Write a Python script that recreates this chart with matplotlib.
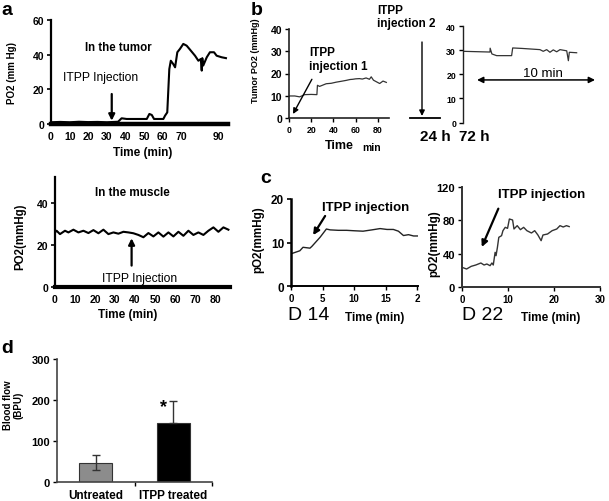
import matplotlib
matplotlib.use('Agg')
import matplotlib.pyplot as plt

plt.rcParams['font.family'] = ['Liberation Sans', 'DejaVu Sans']

# ---------------- data ----------------
# a: tumor
tumor_t = [0, 5, 10, 15, 20, 25, 30, 36, 37.9, 40.6, 51.4, 52.8, 54.1, 55.3, 60.3, 61.2,
           62.4, 63.5, 64.3, 65.6, 66.6, 67.8, 69.2, 71.0, 72.8, 74.6, 77.3, 79.1, 80.4,
           80.9, 81.2, 81.7, 83.6, 85.3, 87.5, 88.9, 91.6, 93.9]
tumor_po2 = [1.0, 1.2, 1.0, 1.3, 1.1, 1.2, 1.0, 1.3, 3.3, 2.9, 2.9, 5.8, 5.2, 2.9, 2.9, 4.8,
             6.7, 31.7, 36.5, 34.6, 32.7, 41.4, 43.3, 46.2, 45.2, 42.9, 39.4, 36.5, 37.5,
             30.8, 38.0, 33.7, 38.5, 41.4, 41.4, 39.4, 38.5, 38.0]
tumor_xticks = [0, 10, 20, 30, 40, 50, 60, 70, 90]

# a: muscle
muscle_t = [0, 0.8, 2.5, 5, 6.7, 9.2, 11.7, 14.2, 16.7, 19.2, 21.7, 24.2, 26.7, 29.2, 31.7,
            34.2, 36.7, 39.2, 41.7, 44.2, 46.7, 49.2, 51.7, 54.2, 56.7, 59.2, 61.7, 64.2,
            66.7, 69.2, 71.7, 74.2, 76.7, 79.2, 81.7, 84.2, 86.7]
muscle_po2 = [26.0, 26.8, 25.2, 26.8, 26.0, 27.3, 26.0, 26.8, 25.7, 27.1, 25.6, 27.3, 25.2,
              26.0, 25.4, 26.3, 26.0, 25.6, 24.8, 23.7, 25.7, 24.1, 26.0, 24.0, 26.0, 24.1,
              26.3, 24.4, 26.8, 24.8, 26.0, 24.8, 26.8, 28.4, 26.3, 28.4, 27.3]

# b: first session (min)
b1_t = [0, 5.2, 9.6, 14.1, 20, 25.1, 25.6, 27.5, 33.5, 38, 42.4, 47, 51.4, 55, 57.4, 60,
        63.4, 66, 69.4, 72.4, 74, 76, 78.6, 81.6, 84.6, 87.6]
b1_po2 = [9.9, 9.9, 9.5, 10.5, 10.6, 10.5, 14.7, 14.2, 15.4, 15.6, 16.1, 16.5, 16.9, 17.3,
          17.4, 17.6, 17.7, 17.5, 18.0, 17.4, 18.5, 17.0, 16.3, 15.5, 16.6, 16.0]

# b: after 72 h (min)
b2_t = [0, 2.29, 2.3, 2.45, 2.85, 4.12, 4.21, 5.0, 6.52, 6.8, 7.09, 7.37, 7.65, 7.94, 8.22,
        8.79, 8.93, 9.01, 9.63]
b2_po2 = [29.6, 29.3, 30.9, 28.5, 27.8, 27.8, 31.0, 30.8, 30.3, 29.6, 30.3, 29.2, 30.2, 29.4,
          30.3, 29.8, 25.7, 29.2, 29.0]

# c: D14
c1_t = [0, 0.6, 1.4, 1.9, 3.0, 3.3, 4.6, 5.6, 6.2, 7.5, 8.8, 10.0, 11.4, 12.8, 14.1, 15.2,
        16.2, 17.0, 17.8, 18.6, 19.4, 20.0]
c1_po2 = [7.4, 7.7, 8.1, 8.9, 8.7, 9.1, 11.2, 13.1, 12.9, 12.8, 12.8, 12.7, 12.6, 12.9, 13.2,
          13.0, 13.0, 12.6, 11.6, 11.8, 11.5, 11.5]

# c: D22
c2_t = [0, 1.0, 2.0, 3.0, 4.1, 4.8, 5.4, 6.1, 6.5, 6.8, 7.2, 7.4, 7.7, 8.0, 8.6, 8.9, 9.4,
        9.9, 10.3, 11.0, 11.3, 12.0, 12.7, 13.4, 14.1, 15.1, 15.8, 16.5, 17.2, 17.6, 18.6,
        19.6, 20.6, 21.3, 22.0, 22.7, 23.3]
c2_po2 = [23.6, 21.6, 24.8, 26.4, 28.8, 26.4, 27.6, 25.6, 28.8, 26.4, 41.6, 37.6, 47.6, 59.6,
          61.6, 67.6, 71.6, 70.4, 81.6, 80.4, 69.6, 73.6, 68.8, 71.6, 67.6, 64.8, 67.6, 62.4,
          55.6, 62.4, 63.6, 67.6, 69.6, 73.6, 72.0, 73.6, 72.5]

# d: blood flow
groups = ['Untreated', 'ITPP treated']
flow = [47, 145]
flow_err_low = [18, 0]
flow_err_high = [18, 53]

# ---------------- figure ----------------
W, H = 609, 502
fig = plt.figure(figsize=(W / 100, H / 100), dpi=100)


def axpx(x0, y0, x1, y1):
    return fig.add_axes([x0 / W, 1 - y1 / H, (x1 - x0) / W, (y1 - y0) / H])


def ftext(x, y, s, **kw):
    kw.setdefault('ha', 'center')
    kw.setdefault('va', 'center')
    return fig.text(x / W, 1 - y / H, s, **kw)


def style(ax, lw_left=1.5, lw_bottom=1.5, color='black', bottom=True):
    ax.spines['top'].set_visible(False)
    ax.spines['right'].set_visible(False)
    ax.spines['left'].set_linewidth(lw_left)
    ax.spines['bottom'].set_linewidth(lw_bottom)
    ax.spines['left'].set_color(color)
    ax.spines['bottom'].set_color(color)
    ax.spines['bottom'].set_visible(bottom)
    ax.patch.set_alpha(0)


def ticklabels_bold(ax, xs, ys):
    for lab in ax.get_xticklabels():
        lab.set_fontweight('bold')
        lab.set_fontsize(xs)
    for lab in ax.get_yticklabels():
        lab.set_fontweight('bold')
        lab.set_fontsize(ys)


arrow_kw = dict(arrowstyle='-|>', color='black', lw=1.6, mutation_scale=9,
                shrinkA=0, shrinkB=0)

# ---- panel a: tumor ----
ax = axpx(51, 21, 228, 125)
style(ax, 1.6, 3.2)
ax.plot(tumor_t, tumor_po2, color='black', lw=1.5, solid_joinstyle='round')
ax.set_xlim(0, 95)
ax.set_ylim(0, 60)
ax.set_yticks([0, 20, 40, 60])
ax.set_xticks(tumor_xticks)
ax.tick_params(axis='y', length=3, width=1.2, pad=2)
ax.tick_params(axis='x', length=0, pad=5)
ticklabels_bold(ax, 7.5, 7.5)
ax.text(36.1, 44.2, 'In the tumor', fontsize=8.3, fontweight='bold', ha='center', va='center')
ax.text(6.6, 26.9, 'ITPP Injection', fontsize=8.7, ha='left', va='center')
ax.annotate('', xy=(32.6, 1.9), xytext=(32.6, 17.3), arrowprops=arrow_kw)
ftext(12, 73, 'PO2 (mm Hg)', rotation=90, fontsize=7, fontweight='bold')
ftext(143, 153, 'Time (min)', fontsize=8.5, fontweight='bold')

# ---- panel a: muscle ----
ax = axpx(55, 178, 230, 288)
style(ax, 1.6, 3.0)
ax.plot(muscle_t, muscle_po2, color='black', lw=1.5)
ax.set_xlim(0, 87.5)
ax.set_ylim(0, 52.4)
ax.set_yticks([0, 20, 40])
ax.set_xticks([0, 10, 20, 30, 40, 50, 60, 70, 80])
ax.tick_params(axis='y', length=3, width=1.2, pad=2)
ax.tick_params(axis='x', length=0, pad=5)
ticklabels_bold(ax, 7.5, 7.5)
ax.text(38.7, 45.1, 'In the muscle', fontsize=8.4, fontweight='bold', ha='center', va='center')
ax.text(42.5, 4.1, 'ITPP Injection', fontsize=8.7, ha='center', va='center')
ax.annotate('', xy=(38.3, 23.2), xytext=(38.3, 10.2), arrowprops=arrow_kw)
ftext(20, 237, 'PO2(mmHg)', rotation=90, fontsize=8.3, fontweight='bold')
ftext(128, 315, 'Time (min)', fontsize=8.5, fontweight='bold')

# ---- panel b: left ----
ax = axpx(289, 30, 389, 119)
style(ax, 1.2, 1.2, color='#222222')
ax.plot(b1_t, b1_po2, color='#333333', lw=0.9)
ax.set_xlim(0, 90)
ax.set_ylim(0, 40)
ax.set_yticks([0, 10, 20, 30, 40])
ax.set_xticks([0, 20, 40, 60, 80])
ax.tick_params(axis='y', length=3, width=1, pad=2)
ax.tick_params(axis='x', length=3, width=1, pad=2)
ticklabels_bold(ax, 6.3, 7.5)
ax.text(18.0, 32.2, 'ITPP\ninjection 1', fontsize=8.5, fontweight='bold', ha='left', va='top',
        linespacing=1.15)
ax.annotate('', xy=(3.6, 1.8), xytext=(20.6, 17.4),
            arrowprops=dict(arrowstyle='-|>', color='black', lw=1.0, mutation_scale=8,
                            shrinkA=0, shrinkB=0))
ftext(256, 61, 'Tumor PO2 (mmHg)', rotation=90, fontsize=6.5, fontweight='bold')
ftext(339, 146, 'Time', fontsize=9, fontweight='bold')
ftext(372, 148, 'min', fontsize=7.5, fontweight='bold')

# ---- panel b: middle (break / second injection) ----
ov = fig.add_axes([0, 0, 1, 1])
ov.set_xlim(0, W)
ov.set_ylim(H, 0)
ov.axis('off')
ov.patch.set_alpha(0)
ov.plot([410, 440], [119, 119], color='black', lw=1.3)
ov.annotate('', xy=(422, 117), xytext=(422, 43),
            arrowprops=dict(arrowstyle='-|>', color='black', lw=1.0, mutation_scale=8,
                            shrinkA=0, shrinkB=0))
ftext(377, 5, 'ITPP\ninjection 2', fontsize=8.5, fontweight='bold', ha='left', va='top',
      linespacing=1.15)
ftext(435, 137, '24 h', fontsize=11, fontweight='bold')
ftext(474, 137, '72 h', fontsize=11, fontweight='bold')

# ---- panel b: right ----
ax = axpx(463, 27.3, 600, 123.5)
style(ax, 1.0, 1.0, color='#222222', bottom=False)
ax.plot(b2_t, b2_po2, color='#333333', lw=0.9)
ax.set_xlim(0, 11.61)
ax.set_ylim(0, 40)
ax.set_yticks([0, 10, 20, 30, 40])
ax.set_xticks([])
ax.tick_params(axis='y', length=3, width=1, pad=2)
ticklabels_bold(ax, 6.3, 6.3)
ax.annotate('', xy=(11.19, 17.7), xytext=(1.19, 17.7),
            arrowprops=dict(arrowstyle='<|-|>', color='black', lw=1.1, mutation_scale=9,
                            shrinkA=0, shrinkB=0))
ax.text(6.78, 20.4, '10 min', fontsize=9.5, ha='center', va='center')

# ---- panel c: left (D14) ----
ax = axpx(291, 200, 418, 287)
style(ax, 1.8, 1.4)
ax.plot(c1_t, c1_po2, color='#222222', lw=1.0)
ax.set_xlim(0, 20.1)
ax.set_ylim(0, 20)
ax.set_yticks([0, 10, 20])
ax.set_xticks([0, 5, 10, 15, 20])
ax.set_xticklabels(['0', '5', '10', '15', '2'])
ax.tick_params(axis='y', length=3, width=1.2, pad=2)
ax.tick_params(axis='x', length=3, width=1.0, pad=2)
ticklabels_bold(ax, 7, 8.5)
ax.text(4.9, 18.2, 'ITPP injection', fontsize=9.5, fontweight='bold', ha='left', va='center')
ax.annotate('', xy=(3.5, 11.7), xytext=(5.4, 16.1), arrowprops=arrow_kw)
ftext(258, 240, 'pO2(mmHg)', rotation=90, fontsize=8.4, fontweight='bold')
ftext(288, 316, 'D 14', fontsize=14, ha='left')
ftext(375, 318, 'Time (min)', fontsize=8.5, fontweight='bold')

# ---- panel c: right (D22) ----
ax = axpx(462, 188, 600, 288)
style(ax, 1.4, 1.4, color='#333333')
ax.plot(c2_t, c2_po2, color='#333333', lw=1.0)
ax.set_xlim(0, 30)
ax.set_ylim(0, 120)
ax.set_yticks([0, 40, 80, 120])
ax.set_xticks([0, 10, 20, 30])
ax.tick_params(axis='y', length=3, width=1.0, pad=2)
ax.tick_params(axis='x', length=3, width=1.0, pad=2)
ticklabels_bold(ax, 7, 8)
ax.text(7.9, 112, 'ITPP injection', fontsize=9.5, fontweight='bold', ha='left', va='center')
ax.annotate('', xy=(4.3, 48), xytext=(7.9, 94), arrowprops=arrow_kw)
ftext(434, 244, 'pO2(mmHg)', rotation=90, fontsize=8.4, fontweight='bold')
ftext(462, 316, 'D 22', fontsize=14, ha='left')
ftext(551, 318, 'Time (min)', fontsize=8.5, fontweight='bold')

# ---- panel d ----
ax = axpx(57, 360, 212, 483)
style(ax, 1.2, 1.2, color='#444444')
xpos = list(range(len(groups)))
ax.bar(xpos, flow, width=0.42, color=['#8c8c8c', 'black'], edgecolor='#333333', linewidth=0.8,
       zorder=2)
ax.errorbar(xpos, flow, yerr=[flow_err_low, flow_err_high], fmt='none', ecolor='#333333',
            elinewidth=1.0, capsize=3, capthick=1.0, zorder=3)
ax.set_xlim(-0.5, 1.5)
ax.set_ylim(0, 300)
ax.set_yticks([0, 100, 200, 300])
ax.set_xticks(xpos)
ax.set_xticklabels(groups)
ax.set_xticks([0.5, 1.5], minor=True)
ax.tick_params(axis='x', which='major', length=0, pad=5)
ax.tick_params(axis='x', which='minor', length=3, width=1)
ax.tick_params(axis='y', length=3, width=1, pad=2)
ticklabels_bold(ax, 8.5, 8)
ax.text(0.88, 183, '*', fontsize=13, fontweight='bold', ha='center', va='center')
ftext(13, 405, 'Blood flow\n(BPU)', rotation=90, fontsize=7, fontweight='bold',
      linespacing=1.0)

# ---- panel letters ----
ftext(1, 2, 'a', fontsize=14, fontweight='bold', ha='left', va='top')
ftext(251, 2, 'b', fontsize=14, fontweight='bold', ha='left', va='top')
ftext(260, 170, 'c', fontsize=14, fontweight='bold', ha='left', va='top')
ftext(1, 340, 'd', fontsize=14, fontweight='bold', ha='left', va='top')

fig.savefig('out.png', dpi=100)
